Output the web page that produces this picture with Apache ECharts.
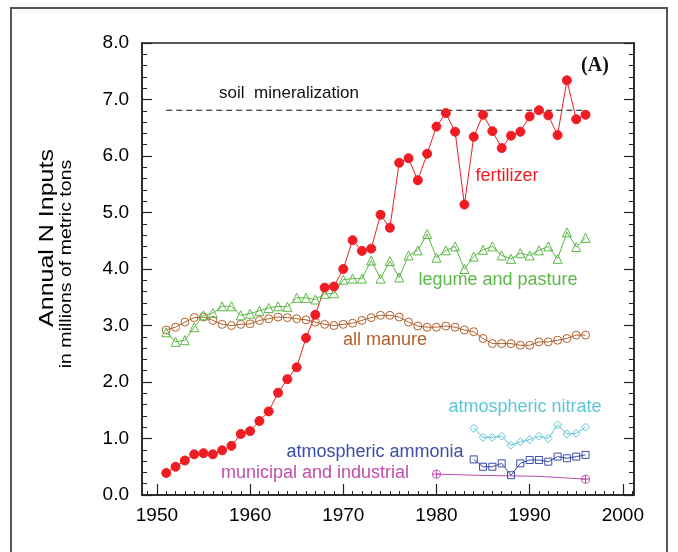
<!DOCTYPE html>
<html>
<head>
<meta charset="utf-8">
<script src="https://cdn.jsdelivr.net/npm/echarts@6/dist/echarts.min.js"></script>
<style>
  html, body { margin: 0; padding: 0; background: #fff; }
  #main { width: 678px; height: 552px; }
</style>
</head>
<body>
<div id="main"></div>
<script>
// annual N inputs, millions of metric tons
var years = [1951, 1952, 1953, 1954, 1955, 1956, 1957, 1958, 1959, 1960,
  1961, 1962, 1963, 1964, 1965, 1966, 1967, 1968, 1969, 1970,
  1971, 1972, 1973, 1974, 1975, 1976, 1977, 1978, 1979, 1980,
  1981, 1982, 1983, 1984, 1985, 1986, 1987, 1988, 1989, 1990,
  1991, 1992, 1993, 1994, 1995, 1996]
var fertilizer = [0.39, 0.50, 0.61, 0.72, 0.74, 0.72, 0.79, 0.87, 1.08, 1.13,
  1.31, 1.48, 1.81, 2.05, 2.26, 2.78, 3.19, 3.67, 3.69, 4.00,
  4.51, 4.32, 4.36, 4.96, 4.73, 5.88, 5.96, 5.57, 6.04, 6.52,
  6.76, 6.43, 5.14, 6.34, 6.73, 6.44, 6.14, 6.36, 6.43, 6.70,
  6.81, 6.72, 6.37, 7.34, 6.65, 6.73]
var legume = [2.88, 2.71, 2.74, 2.97, 3.18, 3.22, 3.34, 3.34, 3.18, 3.21,
  3.26, 3.31, 3.34, 3.33, 3.49, 3.49, 3.46, 3.56, 3.57, 3.81,
  3.83, 3.83, 4.15, 3.83, 4.14, 3.85, 4.24, 4.33, 4.62, 4.20,
  4.33, 4.40, 4.00, 4.22, 4.34, 4.40, 4.24, 4.18, 4.28, 4.24,
  4.33, 4.40, 4.18, 4.65, 4.39, 4.55]
var manure = [2.92, 2.97, 3.06, 3.14, 3.15, 3.09, 3.02, 3.00, 3.02, 3.03,
  3.09, 3.12, 3.15, 3.14, 3.12, 3.10, 3.06, 3.02, 3.00, 3.02,
  3.04, 3.09, 3.14, 3.18, 3.18, 3.15, 3.06, 2.99, 2.97, 2.97,
  2.99, 2.97, 2.92, 2.89, 2.77, 2.68, 2.68, 2.68, 2.65, 2.65,
  2.71, 2.71, 2.74, 2.77, 2.83, 2.83]
var atmYears = [1984, 1985, 1986, 1987, 1988, 1989, 1990, 1991, 1992, 1993, 1994, 1995, 1996]
var nitrate = [1.18, 1.02, 1.02, 1.04, 0.88, 0.94, 0.98, 1.04, 1.00, 1.24, 1.08, 1.09, 1.20]
var ammonia = [0.63, 0.50, 0.50, 0.56, 0.35, 0.56, 0.62, 0.62, 0.59, 0.68, 0.65, 0.68, 0.71]
var municipalYears = [1980, 1984, 1991, 1996]
var municipal = [0.37, 0.35, 0.33, 0.28]
var municipalMarked = [true, false, false, true]
var soilYears = [1951, 1996]
var soilMineralization = [6.81, 6.81]

var xMajor = [1950, 1960, 1970, 1980, 1990, 2000]

var xMinor = []
for (var yr = 1949; yr <= 2001; yr++) xMinor.push(yr)

function pairs(xs, ys) {
  return xs.map(function (x, i) { return [x, ys[i]] })
}

var FONT = 'Liberation Sans'
var plusCircle = 'path://M10,0A10,10 0 1,1 9.99,0ZM10,0L10,20M0,10L20,10'

function markerSeries(name, xs, ys, color, symbol, size, filled) {
  return {
    name: name,
    type: 'line',
    data: pairs(xs, ys),
    symbol: symbol,
    symbolSize: size,
    showAllSymbol: true,
    lineStyle: { color: color, width: 1 },
    itemStyle: filled
      ? { color: color, borderColor: color, borderWidth: 1 }
      : { color: 'transparent', borderColor: color, borderWidth: 1 },
    emphasis: { disabled: true },
    z: 3
  }
}

var chart = echarts.init(document.getElementById('main'), null, { renderer: 'canvas' })

var munData = pairs(municipalYears, municipal).map(function (p, i) {
  return municipalMarked[i] ? { value: p } : { value: p, symbol: 'none' }
})

var labelStyle = function (text, x, y, color, size) {
  return {
    type: 'text',
    x: x,
    y: y,
    style: {
      text: text,
      fill: color,
      font: (size || 18) + 'px "' + FONT + '"',
      align: 'center',
      verticalAlign: 'middle'
    },
    z: 10
  }
}

var option = {
  backgroundColor: '#fff',
  animation: false,
  grid: {
    left: 142,
    right: 44,
    top: 43,
    bottom: 57,
    show: true,
    borderColor: '#222',
    borderWidth: 1.5,
    backgroundColor: 'transparent',
    containLabel: false,
    outerBoundsMode: 'none'
  },
  xAxis: [{
    type: 'value',
    position: 'bottom',
    min: 1948.4,
    max: 2001.2,
    axisLine: { show: true, onZero: false, lineStyle: { color: '#222', width: 1.5 } },
    axisTick: { show: true, inside: true, length: 11, customValues: xMajor, lineStyle: { color: '#222', width: 1.2 } },
    axisLabel: {
      customValues: xMajor,
      color: '#000',
      fontFamily: FONT,
      fontSize: 19,
      margin: 11,
      formatter: function (v) { return String(v) }
    },
    splitLine: { show: false }
  }, {
    // one short tick per year
    type: 'value',
    position: 'bottom',
    min: 1948.4,
    max: 2001.2,
    axisLine: { show: false },
    axisTick: { show: true, inside: true, length: 4, customValues: xMinor, lineStyle: { color: '#222', width: 1 } },
    axisLabel: { show: false },
    splitLine: { show: false }
  }],
  yAxis: [{
    type: 'value',
    position: 'left',
    min: 0,
    max: 8,
    interval: 1,
    axisLine: { show: true, lineStyle: { color: '#222', width: 1.5 } },
    axisTick: { show: true, inside: true, length: 10, lineStyle: { color: '#222', width: 1.2 } },
    minorTick: { show: true, splitNumber: 5, length: 5, lineStyle: { color: '#222', width: 1 } },
    axisLabel: {
      color: '#000',
      fontFamily: FONT,
      fontSize: 19,
      margin: 13,
      formatter: function (v) { return v.toFixed(1) }
    },
    splitLine: { show: false }
  }, {
    type: 'value',
    position: 'right',
    min: 0,
    max: 8,
    interval: 1,
    axisLine: { show: true, lineStyle: { color: '#222', width: 1.5 } },
    axisTick: { show: true, inside: true, length: 10, lineStyle: { color: '#222', width: 1.2 } },
    minorTick: { show: true, splitNumber: 5, length: 5, lineStyle: { color: '#222', width: 1 } },
    axisLabel: { show: false },
    splitLine: { show: false }
  }],
  series: [
    {
      name: 'soil mineralization',
      type: 'line',
      data: pairs(soilYears, soilMineralization),
      symbol: 'none',
      lineStyle: { color: '#111', width: 1.2, type: [6, 4] },
      emphasis: { disabled: true },
      z: 2
    },
    markerSeries('all manure', years, manure, '#b0602c', 'circle', 8, false),
    markerSeries('legume and pasture', years, legume, '#5cb848', 'triangle', 9, false),
    markerSeries('fertilizer', years, fertilizer, '#f01c24', 'circle', 9, true),
    markerSeries('atmospheric nitrate', atmYears, nitrate, '#5cc6d6', 'diamond', 8, false),
    markerSeries('atmospheric ammonia', atmYears, ammonia, '#3a4ea8', 'rect', 7, false),
    {
      name: 'municipal and industrial',
      type: 'line',
      data: munData,
      symbol: plusCircle,
      symbolSize: 8,
      showAllSymbol: true,
      lineStyle: { color: '#c24cae', width: 1 },
      itemStyle: { color: 'transparent', borderColor: '#c24cae', borderWidth: 1 },
      emphasis: { disabled: true },
      z: 3
    }
  ],
  graphic: [
    // outer frame
    {
      type: 'polyline',
      shape: { points: [[11, 560], [11, 8], [667, 8], [667, 560]] },
      style: { stroke: '#555', lineWidth: 2, fill: null },
      silent: true
    },
    {
      type: 'text', x: 47, y: 238, rotation: Math.PI / 2, scaleX: 1.25,
      style: { text: 'Annual N Inputs', fill: '#000', font: '20px "' + FONT + '"', align: 'center', verticalAlign: 'middle' }
    },
    {
      type: 'text', x: 66, y: 264, rotation: Math.PI / 2, scaleX: 1.15,
      style: { text: 'in millions of metric tons', fill: '#000', font: '17px "' + FONT + '"', align: 'center', verticalAlign: 'middle' }
    },
    {
      type: 'text', x: 595, y: 66,
      style: { text: '(A)', fill: '#111', font: 'bold 20px "Liberation Serif"', align: 'center', verticalAlign: 'middle' }
    },
    labelStyle('soil  mineralization', 289, 93, '#111', 17),
    labelStyle('fertilizer', 507, 176, '#f01c24', 18),
    labelStyle('legume and pasture', 498, 280, '#5cb848', 18),
    labelStyle('all manure', 385, 340, '#b0602c', 18),
    labelStyle('atmospheric nitrate', 525, 407, '#5cc6d6', 18),
    labelStyle('atmospheric ammonia', 375, 452, '#3a4ea8', 18),
    labelStyle('municipal and industrial', 315, 473, '#c24cae', 18)
  ]
}

chart.setOption(option)
</script>
</body>
</html>
